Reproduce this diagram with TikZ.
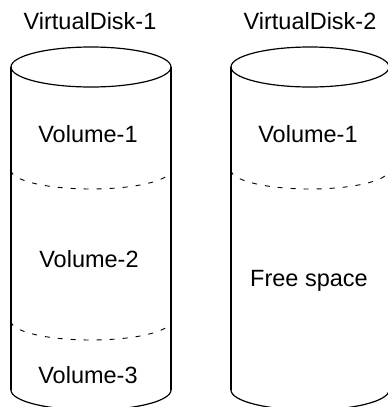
\documentclass[tikz,border=0pt]{standalone}
\usepackage{fontspec}
\setmainfont{Liberation Sans}
\begin{document}
\begin{tikzpicture}[x=1pt,y=-1pt,
  lbl/.style={anchor=base,inner sep=0pt,font=\fontsize{23.5}{28}\selectfont},
  side/.style={line width=1.7pt},
  rim/.style={line width=1.2pt},
  sep/.style={line width=0.9pt,dash pattern=on 5pt off 8pt}]
\useasboundingbox (0,0) rectangle (388,407);
\clip (0,0) rectangle (388,407);
% cylinder 1
\draw[rim] (91,67) ellipse [x radius=80, y radius=20];
\draw[side] (11,67) -- (11,390);
\draw[side] (171,67) -- (171,390);
\draw[rim] (11,390) arc [start angle=180, end angle=0, x radius=80, y radius=20];
\draw[sep] (11,170) arc [start angle=180, end angle=0, x radius=80, y radius=19];
\draw[sep] (11,321) arc [start angle=180, end angle=0, x radius=80, y radius=19];
% cylinder 2
\draw[rim] (310,67) ellipse [x radius=79, y radius=20];
\draw[side] (231,67) -- (231,390);
\draw[side] (389,67) -- (389,390);
\draw[rim] (231,390) arc [start angle=180, end angle=0, x radius=79, y radius=20];
\draw[sep] (231,170) arc [start angle=180, end angle=0, x radius=79, y radius=19];
% labels
\node[lbl] (t1) at (90,29) {VirtualDisk-1};
\node[lbl] (t2) at (310,29) {VirtualDisk-2};
\node[lbl] (v11) at (88,142) {Volume-1};
\node[lbl] (v12) at (89,267) {Volume-2};
\node[lbl] (v13) at (88,383) {Volume-3};
\node[lbl] (v21) at (308,142) {Volume-1};
\node[lbl] (fs) at (309,286) {Free space};
\end{tikzpicture}
\end{document}
